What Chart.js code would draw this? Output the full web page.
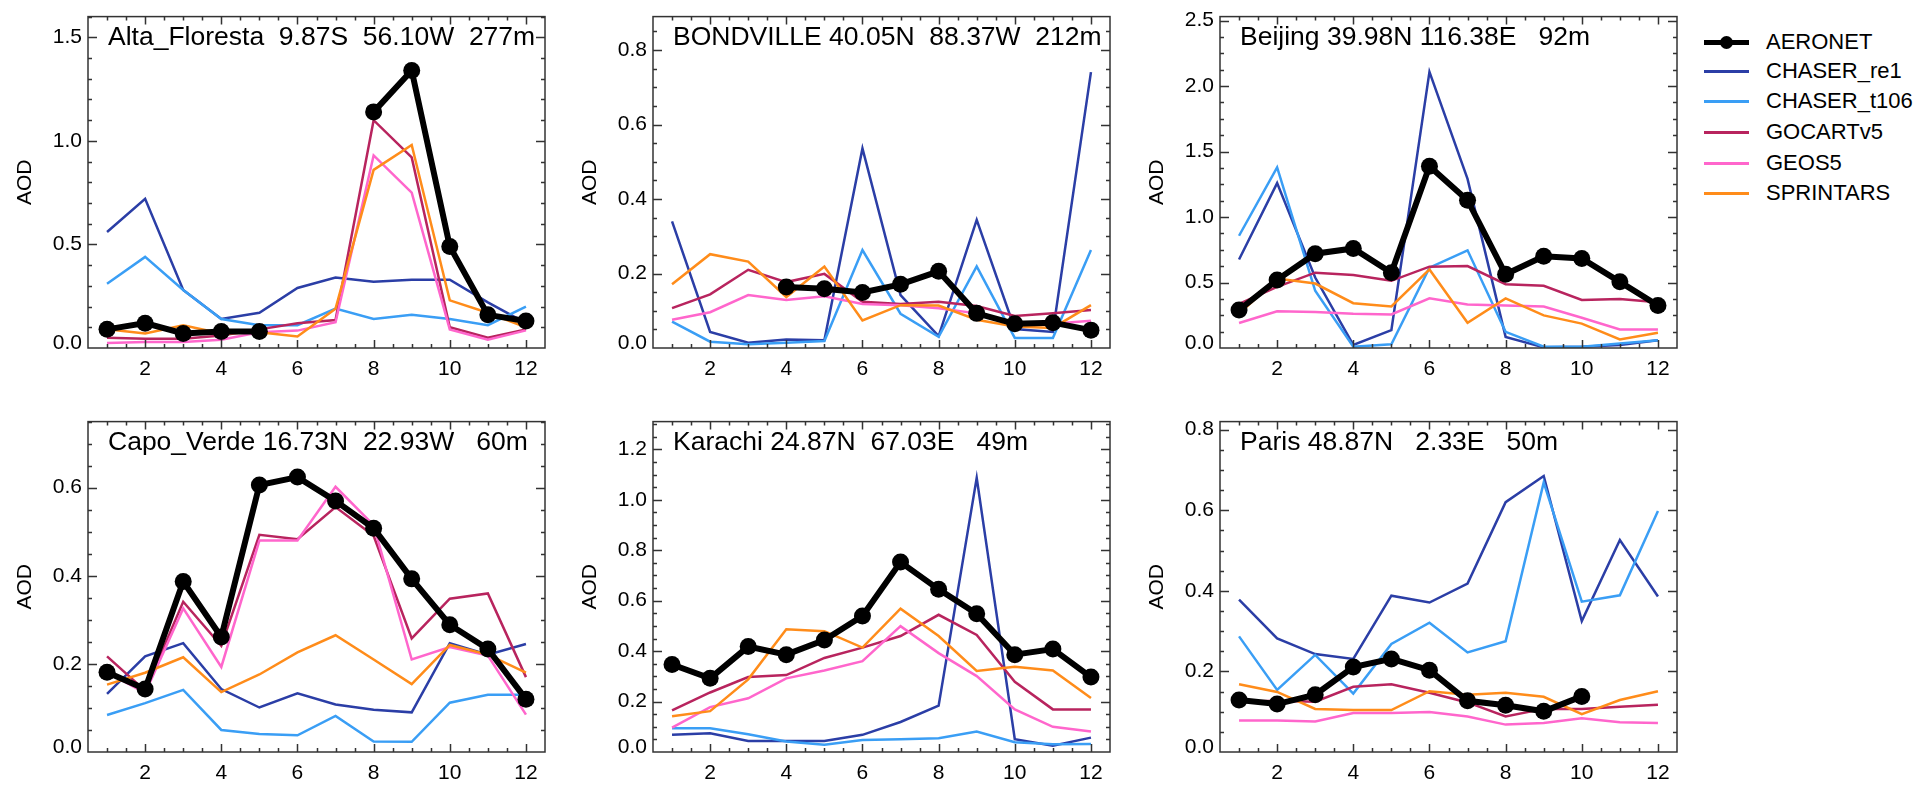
<!DOCTYPE html>
<html>
<head>
<meta charset="utf-8">
<script src="https://cdn.jsdelivr.net/npm/chart.js@4/dist/chart.umd.min.js"></script>
<style>
body { margin: 0; background: #fff; width: 1931px; height: 785px; overflow: hidden; position: relative; font-family: "Liberation Sans", Arial, sans-serif; }
canvas { position: absolute; }
#legend { position: absolute; left: 1704px; top: 27px; }
.leg-row { position: absolute; left: 0; height: 30px; width: 220px; }
.leg-line { position: absolute; left: 0; width: 45px; }
.leg-dot { position: absolute; left: 16px; top: 9px; width: 13px; height: 13px; border-radius: 50%; background: #000; }
.leg-text { position: absolute; left: 62px; top: 0; font-size: 22px; line-height: 30px; color: #000; white-space: nowrap; }
</style>
</head>
<body>
<div id="legend"></div>
<script>
const months = [1, 2, 3, 4, 5, 6, 7, 8, 9, 10, 11, 12]
const x_tick_labels = [2, 4, 6, 8, 10, 12]

const series_names = ['AERONET', 'CHASER_re1', 'CHASER_t106', 'GOCARTv5', 'GEOS5', 'SPRINTARS']
const series_colors = ['#000000', '#2B3EA6', '#3A9EF5', '#B8245E', '#FF66CC', '#FF8C1A']

// Alta_Floresta
let alta_aeronet     = [0.09, 0.12, 0.07, 0.08, 0.08, null, null, 1.14, 1.34, 0.49, 0.16, 0.13]
let alta_chaser_re1  = [0.56, 0.72, 0.28, 0.14, 0.17, 0.29, 0.34, 0.32, 0.33, 0.33, 0.22, 0.12]
let alta_chaser_t106 = [0.31, 0.44, 0.28, 0.14, 0.11, 0.11, 0.19, 0.14, 0.16, 0.14, 0.11, 0.20]
let alta_gocart      = [0.05, 0.045, 0.045, 0.06, 0.09, 0.12, 0.135, 1.10, 0.92, 0.10, 0.05, 0.09]
let alta_geos5       = [0.024, 0.029, 0.029, 0.04, 0.076, 0.084, 0.124, 0.93, 0.75, 0.09, 0.04, 0.085]
let alta_sprintars   = [0.09, 0.07, 0.11, 0.07, 0.076, 0.056, 0.19, 0.86, 0.98, 0.23, 0.17, 0.10]

// BONDVILLE
let bond_aeronet     = [null, null, null, 0.164, 0.159, 0.149, 0.171, 0.206, 0.093, 0.065, 0.068, 0.048]
let bond_chaser_re1  = [0.34, 0.043, 0.014, 0.023, 0.021, 0.536, 0.142, 0.032, 0.344, 0.051, 0.043, 0.741]
let bond_chaser_t106 = [0.071, 0.017, 0.01, 0.014, 0.019, 0.263, 0.092, 0.03, 0.219, 0.027, 0.027, 0.263]
let bond_gocart      = [0.107, 0.144, 0.21, 0.177, 0.199, 0.124, 0.118, 0.124, 0.113, 0.086, 0.093, 0.102]
let bond_geos5       = [0.076, 0.096, 0.142, 0.129, 0.139, 0.118, 0.115, 0.107, 0.093, 0.067, 0.065, 0.073]
let bond_sprintars   = [0.171, 0.252, 0.232, 0.137, 0.219, 0.074, 0.115, 0.114, 0.076, 0.058, 0.054, 0.115]

// Beijing
let beij_aeronet     = [0.29, 0.52, 0.72, 0.76, 0.575, 1.387, 1.128, 0.563, 0.70, 0.683, 0.505, 0.324]
let beij_chaser_re1  = [0.676, 1.259, 0.538, 0.023, 0.136, 2.108, 1.291, 0.085, 0.005, 0.01, 0.023, 0.06]
let beij_chaser_t106 = [0.857, 1.379, 0.437, 0.01, 0.028, 0.613, 0.746, 0.123, 0.01, 0.01, 0.035, 0.06]
let beij_gocart      = [0.337, 0.467, 0.575, 0.558, 0.513, 0.621, 0.626, 0.487, 0.475, 0.367, 0.374, 0.349]
let beij_geos5       = [0.191, 0.281, 0.274, 0.261, 0.256, 0.379, 0.332, 0.324, 0.317, 0.231, 0.141, 0.141]
let beij_sprintars   = [0.261, 0.53, 0.492, 0.342, 0.317, 0.60, 0.193, 0.379, 0.249, 0.186, 0.065, 0.116]

// Capo_Verde
let capo_aeronet     = [0.181, 0.143, 0.387, 0.261, 0.606, 0.624, 0.57, 0.508, 0.393, 0.289, 0.234, 0.12]
let capo_chaser_re1  = [0.132, 0.217, 0.247, 0.143, 0.101, 0.133, 0.108, 0.096, 0.09, 0.247, 0.221, 0.245]
let capo_chaser_t106 = [0.084, 0.111, 0.141, 0.05, 0.041, 0.038, 0.082, 0.024, 0.023, 0.112, 0.13, 0.13]
let capo_gocart      = [0.217, 0.139, 0.341, 0.241, 0.493, 0.483, 0.556, 0.491, 0.258, 0.348, 0.36, 0.17]
let capo_geos5       = [0.181, 0.134, 0.326, 0.193, 0.48, 0.48, 0.602, 0.515, 0.21, 0.238, 0.219, 0.085]
let capo_sprintars   = [0.153, 0.18, 0.215, 0.136, 0.176, 0.226, 0.265, 0.21, 0.154, 0.243, 0.221, 0.18]

// Karachi
let kara_aeronet     = [0.347, 0.292, 0.418, 0.386, 0.444, 0.539, 0.753, 0.645, 0.548, 0.386, 0.408, 0.297]
let kara_chaser_re1  = [0.068, 0.074, 0.044, 0.044, 0.044, 0.068, 0.119, 0.184, 1.087, 0.051, 0.025, 0.057]
let kara_chaser_t106 = [0.094, 0.094, 0.07, 0.042, 0.029, 0.048, 0.051, 0.055, 0.081, 0.039, 0.031, 0.032]
let kara_gocart      = [0.165, 0.236, 0.297, 0.305, 0.373, 0.414, 0.46, 0.544, 0.464, 0.278, 0.169, 0.169]
let kara_geos5       = [0.097, 0.178, 0.213, 0.292, 0.323, 0.36, 0.499, 0.392, 0.301, 0.169, 0.10, 0.081]
let kara_sprintars   = [0.142, 0.162, 0.288, 0.487, 0.479, 0.414, 0.568, 0.46, 0.321, 0.338, 0.323, 0.214]

// Paris
let paris_aeronet     = [0.129, 0.119, 0.142, 0.211, 0.231, 0.203, 0.127, 0.116, 0.101, 0.138, null, null]
let paris_chaser_re1  = [0.378, 0.282, 0.243, 0.231, 0.388, 0.371, 0.418, 0.62, 0.685, 0.325, 0.526, 0.386]
let paris_chaser_t106 = [0.287, 0.154, 0.241, 0.145, 0.268, 0.321, 0.247, 0.275, 0.669, 0.373, 0.389, 0.598]
let paris_gocart      = [0.125, 0.127, 0.125, 0.162, 0.168, 0.147, 0.123, 0.088, 0.107, 0.107, 0.112, 0.117]
let paris_geos5       = [0.078, 0.078, 0.076, 0.097, 0.097, 0.099, 0.088, 0.068, 0.072, 0.084, 0.074, 0.072]
let paris_sprintars   = [0.168, 0.149, 0.107, 0.104, 0.104, 0.151, 0.142, 0.147, 0.137, 0.094, 0.129, 0.151]

const site_titles = [
    'Alta_Floresta  9.87S  56.10W  277m',
    'BONDVILLE 40.05N  88.37W  212m',
    'Beijing 39.98N 116.38E   92m',
    'Capo_Verde 16.73N  22.93W   60m',
    'Karachi 24.87N  67.03E   49m',
    'Paris 48.87N   2.33E   50m'
]
const y_max = [1.6, 0.89, 2.53, 0.75, 1.31, 0.82]
const y_major = [0.5, 0.2, 0.5, 0.2, 0.2, 0.2]
const y_minor = [0.1, 0.05, 0.125, 0.05, 0.05, 0.05]

const site_data = [
    [alta_aeronet, alta_chaser_re1, alta_chaser_t106, alta_gocart, alta_geos5, alta_sprintars],
    [bond_aeronet, bond_chaser_re1, bond_chaser_t106, bond_gocart, bond_geos5, bond_sprintars],
    [beij_aeronet, beij_chaser_re1, beij_chaser_t106, beij_gocart, beij_geos5, beij_sprintars],
    [capo_aeronet, capo_chaser_re1, capo_chaser_t106, capo_gocart, capo_geos5, capo_sprintars],
    [kara_aeronet, kara_chaser_re1, kara_chaser_t106, kara_gocart, kara_geos5, kara_sprintars],
    [paris_aeronet, paris_chaser_re1, paris_chaser_t106, paris_gocart, paris_geos5, paris_sprintars]
]

// plot box layout (pixels of the page)
const col_left = [88, 653, 1220]
const row_top = [12, 417]
const plot_w = 457
const plot_h = [336, 335]
const axis_w = 80, axis_h = 40, pad_top = 14, pad_right = 30

Chart.defaults.font.family = '"Liberation Sans", Arial, sans-serif'
Chart.defaults.color = '#000'

const tick_font = { size: 21 }

// box with inward ticks on all sides + station title, like the IDL plot
const idl_box = {
    id: 'idl_box',
    afterDatasetsDraw(chart, args, opts) {
        const ctx = chart.ctx
        const a = chart.chartArea
        const xs = chart.scales.x
        const ys = chart.scales.y
        ctx.save()
        ctx.strokeStyle = '#333'
        ctx.lineWidth = 1.5
        ctx.strokeRect(a.left, a.top, a.right - a.left, a.bottom - a.top)
        ctx.beginPath()
        for (let k = 2; k <= 24; k++) {
            let m = k / 2
            let px = Math.round(xs.getPixelForValue(m)) + 0.5
            let len = (m % 2 === 0) ? 8 : 4
            ctx.moveTo(px, a.bottom); ctx.lineTo(px, a.bottom - len)
            ctx.moveTo(px, a.top); ctx.lineTo(px, a.top + len)
        }
        let n = Math.floor(ys.max / opts.minor + 1e-6)
        for (let k = 1; k <= n; k++) {
            let v = k * opts.minor
            let r = v / opts.major
            let len = Math.abs(r - Math.round(r)) < 1e-6 ? 9 : 4
            let py = Math.round(ys.getPixelForValue(v)) + 0.5
            ctx.moveTo(a.left, py); ctx.lineTo(a.left + len, py)
            ctx.moveTo(a.right, py); ctx.lineTo(a.right - len, py)
        }
        ctx.stroke()
        ctx.fillStyle = '#000'
        // the zero label sits a little above the axis line in the original
        ctx.font = '21px "Liberation Sans", Arial, sans-serif'
        ctx.textBaseline = 'middle'
        ctx.textAlign = 'right'
        ctx.fillText('0.0', a.left - 6, ys.getPixelForValue(0) - 5)
        ctx.font = '26.5px "Liberation Sans", Arial, sans-serif'
        ctx.textAlign = 'left'
        ctx.fillText(opts.title, a.left + 20, a.top + 21)
        ctx.restore()
    }
}

function make_ticks(max, step) {
    let out = []
    for (let k = 0; k * step <= max + 1e-9; k++) {
        out.push({ value: Math.round(k * step * 1000) / 1000 })
    }
    return out
}

for (let p = 0; p < 6; p++) {
    let col = p % 3
    let row = Math.floor(p / 3)
    let cv = document.createElement('canvas')
    let w = axis_w + plot_w + pad_right
    let h = pad_top + plot_h[row] + axis_h
    cv.width = w
    cv.height = h
    cv.style.width = w + 'px'
    cv.style.height = h + 'px'
    cv.style.left = (col_left[col] - axis_w) + 'px'
    cv.style.top = (row_top[row] - pad_top) + 'px'
    document.body.appendChild(cv)

    let datasets = site_data[p].map((vals, i) => {
        let is_obs = i === 0
        return {
            label: series_names[i],
            data: months.map((m, j) => ({ x: m, y: vals[j] })),
            borderColor: series_colors[i],
            backgroundColor: series_colors[i],
            borderWidth: is_obs ? 6 : 2.5,
            pointRadius: is_obs ? 8.5 : 0,
            pointBorderWidth: 0,
            pointBackgroundColor: series_colors[i],
            tension: 0,
            spanGaps: false,
            order: is_obs ? 0 : 6 - i
        }
    })

    new Chart(cv, {
        type: 'line',
        data: { datasets: datasets },
        plugins: [idl_box],
        options: {
            responsive: false,
            animation: false,
            events: [],
            layout: { padding: { top: pad_top, right: pad_right, left: 0, bottom: 0 } },
            plugins: {
                legend: { display: false },
                tooltip: { enabled: false },
                idl_box: { title: site_titles[p], major: y_major[p], minor: y_minor[p] }
            },
            scales: {
                x: {
                    type: 'linear',
                    min: 0.5,
                    max: 12.5,
                    afterBuildTicks: (scale) => { scale.ticks = x_tick_labels.map(v => ({ value: v })) },
                    afterFit: (scale) => { scale.height = axis_h },
                    ticks: { font: tick_font, color: '#000', padding: 9, maxRotation: 0, callback: v => String(v) },
                    grid: { display: false, drawTicks: false },
                    border: { display: false }
                },
                y: {
                    type: 'linear',
                    min: 0,
                    max: y_max[p],
                    afterBuildTicks: (scale) => { scale.ticks = make_ticks(y_max[p], y_major[p]) },
                    afterFit: (scale) => { scale.width = axis_w },
                    ticks: { font: tick_font, color: '#000', padding: 6, callback: v => (v === 0 ? '' : Number(v).toFixed(1)) },
                    grid: { display: false, drawTicks: false },
                    border: { display: false },
                    title: { display: true, text: 'AOD', font: tick_font, color: '#000', padding: { top: 5, bottom: 0 } }
                }
            }
        }
    })
}

// legend on the right
const legend_rows = [42, 71, 101, 132, 163, 193]
let legend = document.getElementById('legend')
series_names.forEach((name, i) => {
    let row = document.createElement('div')
    row.className = 'leg-row'
    row.style.top = (legend_rows[i] - 27 - 15) + 'px'
    let line = document.createElement('div')
    line.className = 'leg-line'
    let thick = i === 0 ? 5 : 3
    line.style.height = thick + 'px'
    line.style.top = (15 - thick / 2) + 'px'
    line.style.background = series_colors[i]
    row.appendChild(line)
    if (i === 0) {
        let dot = document.createElement('div')
        dot.className = 'leg-dot'
        row.appendChild(dot)
    }
    let txt = document.createElement('div')
    txt.className = 'leg-text'
    txt.textContent = name
    row.appendChild(txt)
    legend.appendChild(row)
})
</script>
</body>
</html>
